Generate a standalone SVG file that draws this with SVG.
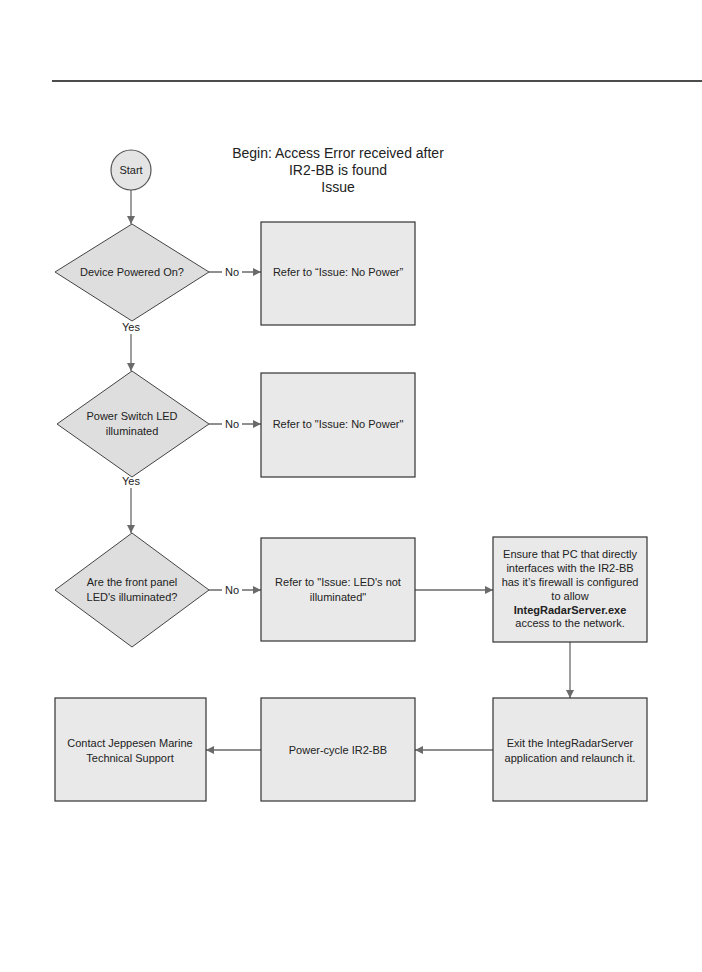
<svg xmlns="http://www.w3.org/2000/svg" width="702" height="972" viewBox="0 0 702 972">
<defs>
<marker id="ah" viewBox="0 0 10 10" refX="10" refY="5" markerWidth="8" markerHeight="8" markerUnits="userSpaceOnUse" orient="auto">
<path d="M0,0 L10,5 L0,10 z" fill="#6a6a6a"/>
</marker>
</defs>
<style>
text{font-family:"Liberation Sans",Arial,sans-serif;font-size:11px;fill:#222;text-anchor:middle}
.box{fill:#e9e9e9;stroke:#333;stroke-width:1.2}
.dia{fill:#dedede;stroke:#444;stroke-width:1}
.con{stroke:#6a6a6a;stroke-width:1.3;fill:none}
.arr{marker-end:url(#ah)}
.title{font-size:14px}
</style>
<rect width="702" height="972" fill="#fff"/>
<line x1="52" y1="81" x2="702" y2="81" stroke="#111" stroke-width="1.4"/>
<g id="title">
<text class="title" x="338" y="158">Begin: Access Error received after</text>
<text class="title" x="338" y="175">IR2-BB is found</text>
<text class="title" x="338" y="192">Issue</text>
</g>
<g id="connectors">
<line class="con arr" x1="131" y1="190" x2="131" y2="224"/>
<line class="con arr" x1="209" y1="272" x2="261" y2="272"/>
<line class="con" x1="131" y1="334" x2="131" y2="346"/>
<line class="con arr" x1="131" y1="346" x2="131" y2="371"/>
<line class="con arr" x1="209" y1="424" x2="261" y2="424"/>
<line class="con arr" x1="131" y1="488" x2="131" y2="533"/>
<line class="con arr" x1="209" y1="590" x2="261" y2="590"/>
<line class="con arr" x1="415" y1="590" x2="493" y2="590"/>
<line class="con arr" x1="570" y1="642" x2="570" y2="698"/>
<line class="con arr" x1="493" y1="750" x2="415" y2="750"/>
<line class="con arr" x1="261" y1="750" x2="206" y2="750"/>
<rect x="222" y="266" width="20" height="12" fill="#fff"/>
<text x="232" y="276">No</text>
<rect x="222" y="418" width="20" height="12" fill="#fff"/>
<text x="232" y="428">No</text>
<rect x="222" y="584" width="20" height="12" fill="#fff"/>
<text x="232" y="594">No</text>
<text x="131" y="331">Yes</text>
<text x="131" y="485">Yes</text>
</g>
<g id="start">
<circle cx="131" cy="170" r="20" fill="#e4e4e4" stroke="#555" stroke-width="1.2"/>
<text x="131" y="174">Start</text>
</g>
<g id="d1">
<polygon class="dia" points="132,224 209,272 132,321 55,272"/>
<text x="132" y="276">Device Powered On?</text>
</g>
<g id="b1">
<rect class="box" x="261" y="222" width="154" height="103"/>
<text x="338" y="276">Refer to “Issue: No Power”</text>
</g>
<g id="d2">
<polygon class="dia" points="132,371 209,424 132,477 57,424"/>
<text x="132" y="420">Power Switch LED</text>
<text x="132" y="435">illuminated</text>
</g>
<g id="b2">
<rect class="box" x="261" y="373" width="154" height="104"/>
<text x="338" y="428">Refer to "Issue: No Power"</text>
</g>
<g id="d3">
<polygon class="dia" points="132,533 209,590 132,647 55,590"/>
<text x="132" y="586">Are the front panel</text>
<text x="132" y="601">LED's illuminated?</text>
</g>
<g id="b3">
<rect class="box" x="261" y="538" width="154" height="103"/>
<text x="338" y="586">Refer to "Issue: LED's not</text>
<text x="338" y="601">illuminated"</text>
</g>
<g id="b4">
<rect class="box" x="493" y="537" width="154" height="105"/>
<text x="570" y="558">Ensure that PC that directly</text>
<text x="570" y="572">interfaces with the IR2-BB</text>
<text x="570" y="586">has it’s firewall is configured</text>
<text x="570" y="600">to allow</text>
<text x="570" y="614" font-weight="bold">IntegRadarServer.exe</text>
<text x="570" y="627">access to the network.</text>
</g>
<g id="b5">
<rect class="box" x="493" y="698" width="154" height="103"/>
<text x="570" y="747">Exit the IntegRadarServer</text>
<text x="570" y="762">application and relaunch it.</text>
</g>
<g id="b6">
<rect class="box" x="261" y="698" width="154" height="103"/>
<text x="338" y="754">Power-cycle IR2-BB</text>
</g>
<g id="b7">
<rect class="box" x="55" y="698" width="151" height="103"/>
<text x="130" y="747">Contact Jeppesen Marine</text>
<text x="130" y="762">Technical Support</text>
</g>
</svg>
